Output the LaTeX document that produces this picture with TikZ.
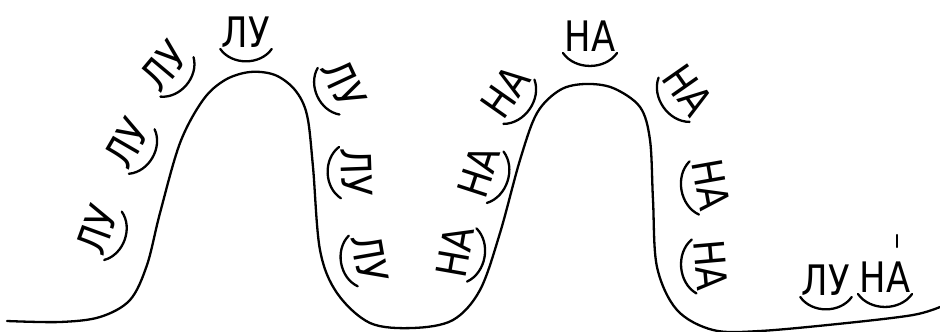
\documentclass[tikz,border=0pt]{standalone}
\usepackage{fontspec}
\newfontfamily\handfont[FakeStretch=0.84]{DejaVu Sans}
\usetikzlibrary{calc}
\tikzset{
  hill/.style={line width=2.3pt, line cap=round, line join=round},
  word/.style={font=\handfont\fontsize{42}{44}\selectfont, inner sep=1.5pt, anchor=center},
  smile/.style={line width=2.3pt, line cap=round},
}

\begin{document}
\begin{tikzpicture}[x=1pt, y=-1pt]
\useasboundingbox (0,0) rectangle (940,332);

% ---------- hill line ----------
\draw[hill] plot[smooth, tension=0.55] coordinates {
  (7,321) (60,322) (100,317) (130,300) (147,265) (160,213) (180,143)
  (203,100) (225,80) (250,72) (275,75) (295,90) (307,115) (313,167)
  (320,250) (337,293) (370,323) (413,328) (453,320) (480,290) (500,233)
  (520,160) (537,113) (560,90) (585,84) (613,88) (640,107) (650,140)
  (653,200) (657,267) (677,310) (713,330) (760,331) (847,323) (913,315) (940,307)};

% ---------- words along the line ----------
\foreach \x/\y/\a/\t [count=\i] in {
  97/230/70/ЛУ, 127/143/60/ЛУ, 164/66/50/ЛУ, 246/32/0/ЛУ,
  344/84/-65/ЛУ, 357/172/-88/ЛУ, 370/258/-80/ЛУ,
  455/252/80/НА, 479/172/72/НА, 505/92/55/НА, 590/36/0/НА,
  688/90/-55/НА, 711/185/-80/НА, 711/265/-85/НА,
  826/280/0/ЛУ, 885/277/0/НА}
{
  \node[word, rotate=\a] (w\i) at (\x,\y) {\t};
  \draw[smile] (w\i.south west) to[bend right=55] (w\i.south east);
}

% stress mark
\coordinate (tick) at ($(w16.north east)+(-15,-13)$);
\draw[smile] (tick) -- ++(0,-12);
\end{tikzpicture}
\end{document}
